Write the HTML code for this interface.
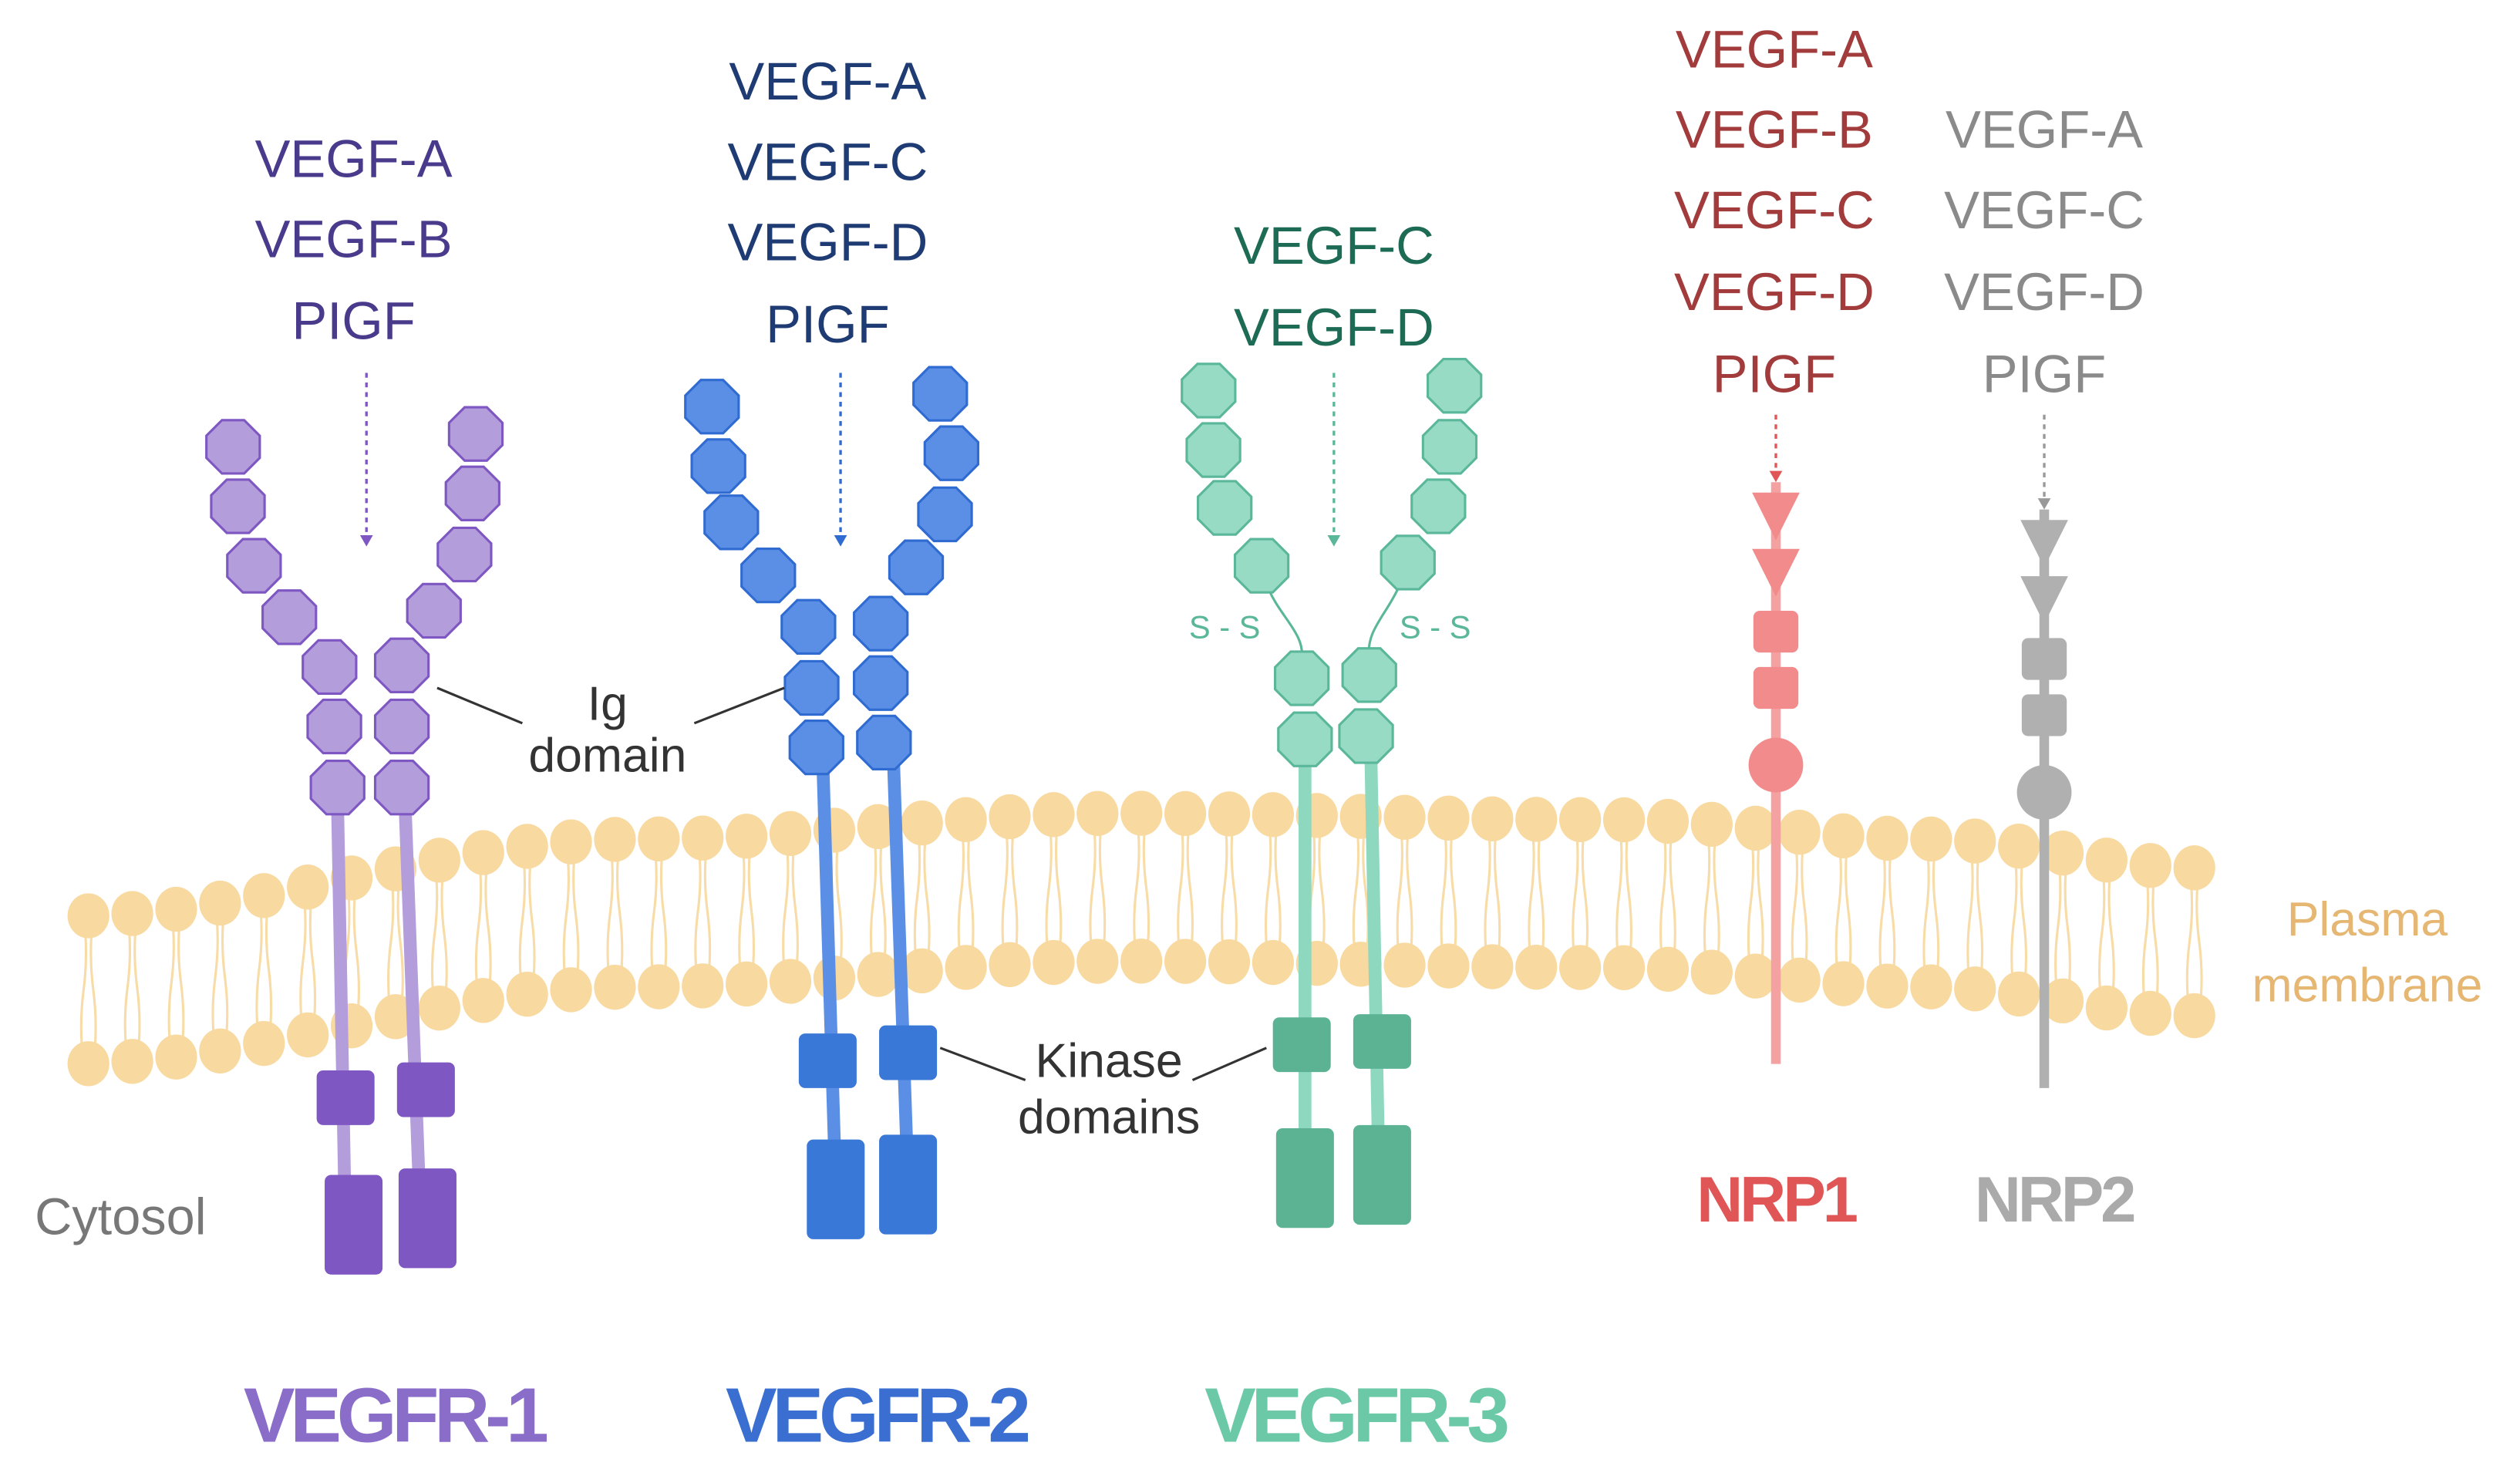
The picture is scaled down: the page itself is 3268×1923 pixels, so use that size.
<!DOCTYPE html>
<html><head><meta charset="utf-8"><style>
html,body{margin:0;padding:0;background:#fff;}
svg{display:block;}
text{font-family:"Liberation Sans",sans-serif;}
</style></head><body>
<svg id="s" width="3268" height="1923" viewBox="0 0 1568 922.7" xmlns="http://www.w3.org/2000/svg">
<rect width="1568" height="923" fill="#fff"/>
<g id="mem"></g>
<g id="rec"></g>
<g font-size="33" text-anchor="middle">
<g fill="#4a3a8c"><text x="220" y="110">VEGF-A</text><text x="220" y="160">VEGF-B</text><text x="220" y="211">PIGF</text></g>
<g fill="#1f3b73"><text x="515" y="62">VEGF-A</text><text x="515" y="112">VEGF-C</text><text x="515" y="162">VEGF-D</text><text x="515" y="213">PIGF</text></g>
<g fill="#1d6b55"><text x="830" y="164">VEGF-C</text><text x="830" y="215">VEGF-D</text></g>
<g fill="#a23b3b"><text x="1104" y="42">VEGF-A</text><text x="1104" y="92">VEGF-B</text><text x="1104" y="142">VEGF-C</text><text x="1104" y="193">VEGF-D</text><text x="1104" y="244">PIGF</text></g>
<g fill="#8a8a8a"><text x="1272" y="92">VEGF-A</text><text x="1272" y="142">VEGF-C</text><text x="1272" y="193">VEGF-D</text><text x="1272" y="244">PIGF</text></g>
<g fill="#333" font-size="30"><text x="378" y="448">Ig</text><text x="378" y="480">domain</text><text x="690" y="670">Kinase</text><text x="690" y="705">domains</text></g>
<text x="75" y="768" fill="#777" font-size="32">Cytosol</text>
<g fill="#e6b673" font-size="30"><text x="1473" y="582">Plasma</text><text x="1473" y="623">membrane</text></g>
<g font-weight="bold" font-size="48" letter-spacing="-3"><text x="245" y="897" fill="#8a6cc9">VEGFR-1</text><text x="545" y="897" fill="#3a6fd1">VEGFR-2</text><text x="843" y="897" fill="#6cc9a7">VEGFR-3</text></g>
<g font-weight="bold" font-size="40" letter-spacing="-2"><text x="1105" y="760" fill="#e05555">NRP1</text><text x="1278" y="760" fill="#aaaaaa">NRP2</text></g>
<g fill="#5bb79a" font-size="20"><text x="762" y="397">S - S</text><text x="893" y="397">S - S</text></g>
</g>
<g stroke="#333" stroke-width="1.5"><line x1="272" y1="428" x2="325" y2="450"/><line x1="488" y1="428" x2="432" y2="450"/><line x1="585" y1="652" x2="638" y2="672"/><line x1="788" y1="652" x2="742" y2="672"/></g>
</svg>
<script>
const NS="http://www.w3.org/2000/svg";
function el(p,t,a){const e=document.createElementNS(NS,t);for(const k in a)e.setAttribute(k,a[k]);p.appendChild(e);return e;}
const mem=document.getElementById('mem'),rec=document.getElementById('rec');
// membrane top y(x) via interpolation
const pts=[[40,570],[400,522],[700,506],[1000,510],[1200,522],[1370,540]];
function yt(x){for(let i=0;i<pts.length-1;i++){const[a,b]=pts[i],[c,d]=pts[i+1];if(x<=c){const t=(x-a)/(c-a);const s=(1-Math.cos(Math.PI*t))/2;return b+(d-b)*s;}}return 540;}
for(let x=55;x<=1368;x+=27.3){const y=yt(x),y2=y+92;
 el(mem,'path',{d:`M${x-3},${y} q3,23 0,46 q-3,23 0,46 M${x+3},${y} q-3,23 0,46 q3,23 0,46`,stroke:'#f7dca8',fill:'none','stroke-width':1.5});
}
for(let x=55;x<=1368;x+=27.3){const y=yt(x);
 el(mem,'ellipse',{cx:x,cy:y,rx:13,ry:14,fill:'#f8d9a0'});
 el(mem,'ellipse',{cx:x,cy:y+92,rx:13,ry:14,fill:'#f8d9a0'});}
function oct(cx,cy,r,f,s){let p=[];for(let i=0;i<8;i++){const a=Math.PI/8+i*Math.PI/4;p.push((cx+r*Math.cos(a)).toFixed(1)+','+(cy+r*Math.sin(a)).toFixed(1));}el(rec,'polygon',{points:p.join(' '),fill:f,stroke:s,'stroke-width':1.5});}
function line(x1,y1,x2,y2,c,w){el(rec,'line',{x1,y1,x2,y2,stroke:c,'stroke-width':w});}
function box(cx,cy,w,h,c){el(rec,'rect',{x:cx-w/2,y:cy-h/2,width:w,height:h,rx:4,fill:c});}
function arrow(x,y1,y2,c){line(x,y1,x,y2-6,c,1.6);rec.lastChild.setAttribute('stroke-dasharray','3,3');el(rec,'polygon',{points:`${x-4},${y2-7} ${x+4},${y2-7} ${x},${y2}`,fill:c});}
function receptor(L,R,stems,ks,kl,fc,sc,stc,kc){
 stems.forEach(s=>line(s[0],s[1],s[2],s[3],stc,8));
 L.concat(R).forEach(p=>oct(p[0],p[1],18,fc,sc));
 ks.forEach(k=>box(k[0],k[1],36,34,kc));kl.forEach(k=>box(k[0],k[1],36,62,kc));}
// VEGFR-1
receptor([[145,278],[148,315],[158,352],[180,384],[205,415],[208,452],[210,490]],
 [[296,270],[294,307],[289,345],[270,380],[250,414],[250,452],[250,490]],
 [[210,500,215,770],[252,500,262,770]],[[215,683],[265,678]],[[220,762],[266,758]],'#b39ddb','#7e57c2','#b39ddb','#7e57c2');
arrow(228,232,340,'#7e57c2');
// VEGFR-2
receptor([[443,253],[447,290],[455,325],[478,358],[503,390],[505,428],[508,465]],
 [[585,245],[592,282],[588,320],[570,353],[548,388],[548,425],[550,462]],
 [[512,475,520,740],[556,475,565,737]],[[515,660],[565,655]],[[520,740],[565,737]],'#5b8fe6','#2f6bd1','#5b8fe6','#3a78d8');
arrow(523,232,340,'#2f6bd1');
// VEGFR-3
el(rec,'path',{d:'M790,368 C798,385 812,395 810,410 M870,366 C862,383 850,393 852,408',stroke:'#5bb79a',fill:'none','stroke-width':1.5});
receptor([[752,243],[755,280],[762,316],[785,352],[810,422],[812,460]],
 [[905,240],[902,278],[895,315],[876,350],[852,420],[850,458]],
 [[812,470,812,733],[853,470,858,731]],[[810,650],[860,648]],[[812,733],[860,731]],'#97dbc4','#5bb79a','#8fd8c0','#5bb394');
arrow(830,232,340,'#5bb79a');
// NRP
function nrp(x,t1,bot,c,lc){line(x,t1,x,bot,lc,6);
 [t1+20,t1+55].forEach(y=>el(rec,'polygon',{points:`${x-14},${y-13} ${x+14},${y-13} ${x},${y+15}`,fill:c,stroke:c,'stroke-width':1}));
 box(x,t1+93,28,26,c);box(x,t1+128,28,26,c);el(rec,'circle',{cx:x,cy:t1+176,r:17,fill:c});}
nrp(1105,300,662,'#f28b8b','#f4a1a1');arrow(1105,258,300,'#e05555');
nrp(1272,317,677,'#b0b0b0','#b0b0b0');arrow(1272,258,317,'#999');
</script>
</body></html>
